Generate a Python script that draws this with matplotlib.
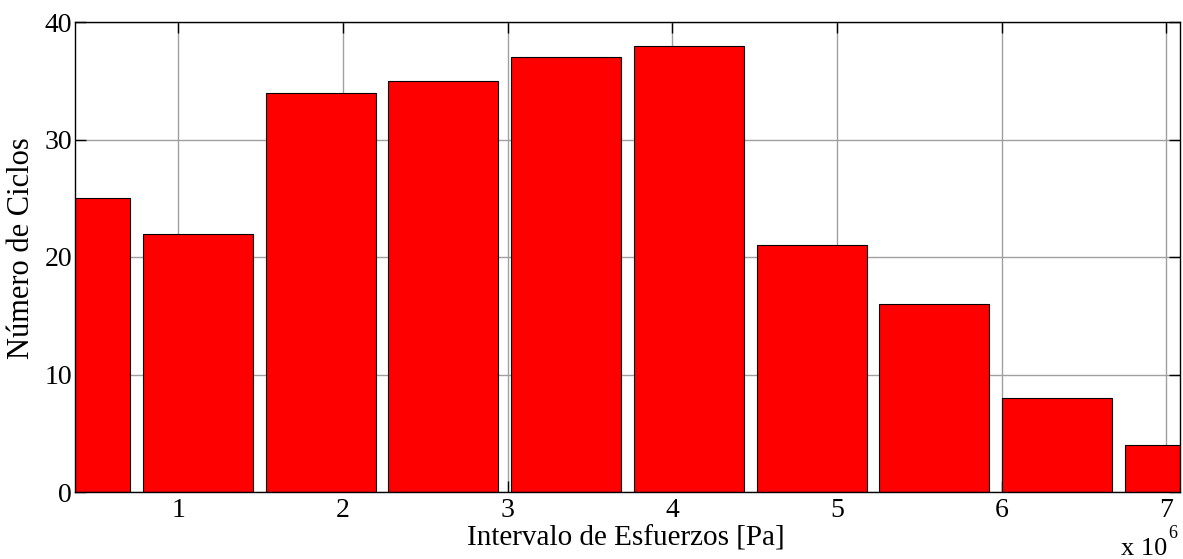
import matplotlib
matplotlib.use('Agg')
import matplotlib.pyplot as plt

# Histogram of stress ranges (x in units of 1e6 Pa)
bin_centers = [0.3725, 1.118, 1.8635, 2.609, 3.3545, 4.100, 4.8455, 5.591, 6.3365, 7.082]
counts = [25, 22, 34, 35, 37, 38, 21, 16, 8, 4]
x_ticks = [1, 2, 3, 4, 5, 6, 7]
y_ticks = [0, 10, 20, 30, 40]
x_label = "Intervalo de Esfuerzos [Pa]"
y_label = "Número de Ciclos"

plt.rcParams['font.family'] = ['Liberation Serif', 'DejaVu Serif']

W, H = 1183, 559
fig = plt.figure(figsize=(W / 100, H / 100), dpi=100)
ax = fig.add_axes([75 / W, 67 / H, 1105 / W, 470 / H])
ax.set_axisbelow(True)
ax.grid(True, color='#a0a0a0', linewidth=1.0)
ax.bar(bin_centers, counts, width=0.668, color='#ff0000',
       edgecolor='black', linewidth=0.8)
ax.set_xlim(bin_centers[0], bin_centers[-1])
ax.set_ylim(0, 40)
ax.set_xticks(x_ticks)
ax.set_yticks(y_ticks)
ax.tick_params(direction='in', length=8, width=1, top=True, right=True,
               labelsize=20, colors='black')
ax.tick_params(axis='x', pad=4)
ax.tick_params(axis='y', pad=2)
for s in ax.spines.values():
    s.set_linewidth(1.0)
    s.set_color('black')

fig.text(626 / W, 1 - 538 / H, x_label, ha='center', va='center', fontsize=21)
fig.text(22 / W, 1 - 248 / H, y_label, ha='center', va='center',
         rotation=90, fontsize=22)
fig.text(1167 / W, 1 - 555 / H, "x 10", ha='right', va='baseline', fontsize=19)
fig.text(1168 / W, 1 - 538 / H, "6", ha='left', va='baseline', fontsize=13)

fig.savefig('out.png', dpi=100)
